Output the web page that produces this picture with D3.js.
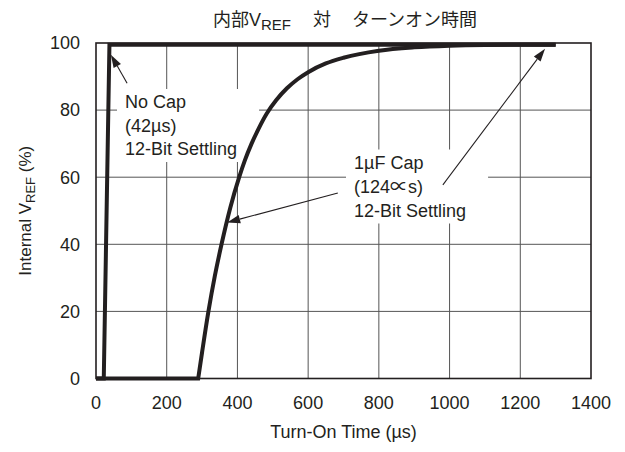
<!DOCTYPE html>
<html>
<head>
<meta charset="utf-8">
<script src="https://cdn.jsdelivr.net/npm/d3@7"></script>
<style>
  html, body { margin: 0; padding: 0; background: #fff; }
  svg { display: block; }
  text { font-family: "Liberation Sans", Arial, "Noto Sans CJK JP", sans-serif; fill: #231f20; }
</style>
</head>
<body>
<svg id="chart" width="625" height="452"></svg>
<script>
// Axis ticks
const xTicks = [0, 200, 400, 600, 800, 1000, 1200, 1400];
const yTicks = [0, 20, 40, 60, 80, 100];

// Turn-on response without a reference capacitor (µs, % of final V_REF)
const noCapTime = [0, 22, 38, 1300];
const noCapVref = [0, 0, 99.5, 99.5];

// Turn-on response with a 1µF reference capacitor
const capTime = [0, 289, 300, 318, 336, 355, 380, 405, 421, 440, 460, 483, 510, 540, 570, 600, 650, 700, 800, 900, 1000, 1100, 1300];
const capVref = [0, 0, 7.8, 20, 30.5, 40, 51, 60, 65, 70, 74.5, 79, 83, 86.5, 89.2, 91.3, 93.9, 95.6, 97.7, 98.7, 99.2, 99.4, 99.5];

// Callout text and arrows (arrow ends in data units: [time, %])
const noCapLabel = ["No Cap", "(42µs)", "12-Bit Settling"];
const capLabel = ["1µF Cap", "(124∝s)", "12-Bit Settling"];
const noCapArrows = [{ from: [88, 88], to: [42, 96.5] }];
const capArrows = [
  { from: [684, 55.3], to: [371, 46.5] },
  { from: [981, 57.7], to: [1270, 98.3] }
];

const svg = d3.select("#chart");
const W = 625, H = 452;
const plotL = 96, plotR = 591, plotT = 43, plotB = 378.5;
const ink = "#231f20";

svg.append("rect").attr("width", W).attr("height", H).attr("fill", "#fff");

const x = d3.scaleLinear().domain([0, 1400]).range([plotL, plotR]);
const y = d3.scaleLinear().domain([0, 100]).range([plotB, plotT]);

// Layers
const gridLayer = svg.append("g");
const boxLayer = svg.append("g");
const curveLayer = svg.append("g");
const frameLayer = svg.append("g");
const textLayer = svg.append("g");

// Grid
const grid = gridLayer.attr("stroke", "#555").attr("stroke-width", 1);
grid.selectAll("line.v").data(xTicks.slice(1, -1)).join("line").attr("class", "v")
  .attr("x1", d => x(d)).attr("x2", d => x(d)).attr("y1", plotT).attr("y2", plotB);
grid.selectAll("line.h").data(yTicks.slice(1, -1)).join("line").attr("class", "h")
  .attr("y1", d => y(d)).attr("y2", d => y(d)).attr("x1", plotL).attr("x2", plotR);

// Callout text blocks, with white boxes that break the grid behind them
const pad = { l: 8, r: 22, t: 3, b: 3 };
function callout(lines, x0, y0, lh) {
  const t = textLayer.append("text").attr("font-size", 18);
  lines.forEach((s, i) => {
    t.append("tspan").attr("x", x0).attr("y", y0 + i * lh).text(s);
  });
  const bb = t.node().getBBox();
  boxLayer.append("rect").attr("fill", "#fff")
    .attr("x", bb.x - pad.l).attr("y", bb.y - pad.t)
    .attr("width", bb.width + pad.l + pad.r).attr("height", bb.height + pad.t + pad.b);
}
callout(noCapLabel, 125, 108, 23.5);
callout(capLabel, 354, 168.5, 24);

// Curves
const lineLin = d3.line().x(d => x(d[0])).y(d => y(d[1]));
const lineMono = d3.line().x(d => x(d[0])).y(d => y(d[1])).curve(d3.curveMonotoneX);

const noCapPts = noCapTime.map((t, i) => [t, noCapVref[i]]);
const capPts = capTime.map((t, i) => [t, capVref[i]]);

const curves = curveLayer.attr("fill", "none").attr("stroke", ink)
  .attr("stroke-width", 4).attr("stroke-linejoin", "miter");
curves.append("path").attr("d", lineLin(noCapPts));
// flat segment to the start of the rise, then a smooth rise
const capPath = "M" + x(capPts[0][0]) + "," + y(capPts[0][1]) +
  lineMono(capPts.slice(1)).replace(/^M/, "L");
curves.append("path").attr("d", capPath);

// Frame
frameLayer.append("rect").attr("x", plotL).attr("y", plotT)
  .attr("width", plotR - plotL).attr("height", plotB - plotT)
  .attr("fill", "none").attr("stroke", ink).attr("stroke-width", 1.6);

// Arrows
function arrow(a) {
  const x1 = x(a.from[0]), y1 = y(a.from[1]);
  const x2 = x(a.to[0]), y2 = y(a.to[1]);
  const ang = Math.atan2(y2 - y1, x2 - x1);
  const len = 13, half = 4.2;
  const bx = x2 - len * Math.cos(ang), by = y2 - len * Math.sin(ang);
  textLayer.append("line").attr("x1", x1).attr("y1", y1).attr("x2", bx).attr("y2", by)
    .attr("stroke", ink).attr("stroke-width", 1.1);
  const px = -Math.sin(ang) * half, py = Math.cos(ang) * half;
  textLayer.append("path")
    .attr("d", `M${x2},${y2}L${bx + px},${by + py}L${bx - px},${by - py}Z`)
    .attr("fill", ink);
}
noCapArrows.forEach(arrow);
capArrows.forEach(arrow);

// Tick labels
textLayer.append("g").selectAll("text").data(xTicks).join("text")
  .attr("x", d => x(d)).attr("y", 409).attr("text-anchor", "middle")
  .attr("font-size", 18).text(d => d);
textLayer.append("g").selectAll("text").data(yTicks).join("text")
  .attr("x", 80).attr("y", d => y(d)).attr("dy", "0.35em").attr("text-anchor", "end")
  .attr("font-size", 18).text(d => d);

// Axis titles
textLayer.append("text").attr("x", (plotL + plotR) / 2).attr("y", 438)
  .attr("text-anchor", "middle").attr("font-size", 18).text("Turn-On Time (µs)");

const yl = textLayer.append("text").attr("text-anchor", "middle").attr("font-size", 17)
  .attr("transform", `translate(31,${(plotT + plotB) / 2}) rotate(-90)`);
yl.append("tspan").text("Internal V");
yl.append("tspan").attr("font-size", 13).attr("dy", 4).text("REF");
yl.append("tspan").attr("dy", -4).text(" (%)");

// Title
const title = textLayer.append("g").attr("font-size", 18);
const t1 = title.append("text").attr("x", 213).attr("y", 26);
t1.append("tspan").text("内部V");
t1.append("tspan").attr("font-size", 15).attr("dy", 4).text("REF");
title.append("text").attr("x", 313).attr("y", 26).text("対");
title.append("text").attr("x", 352).attr("y", 26).text("ターンオン時間");
</script>
</body>
</html>
